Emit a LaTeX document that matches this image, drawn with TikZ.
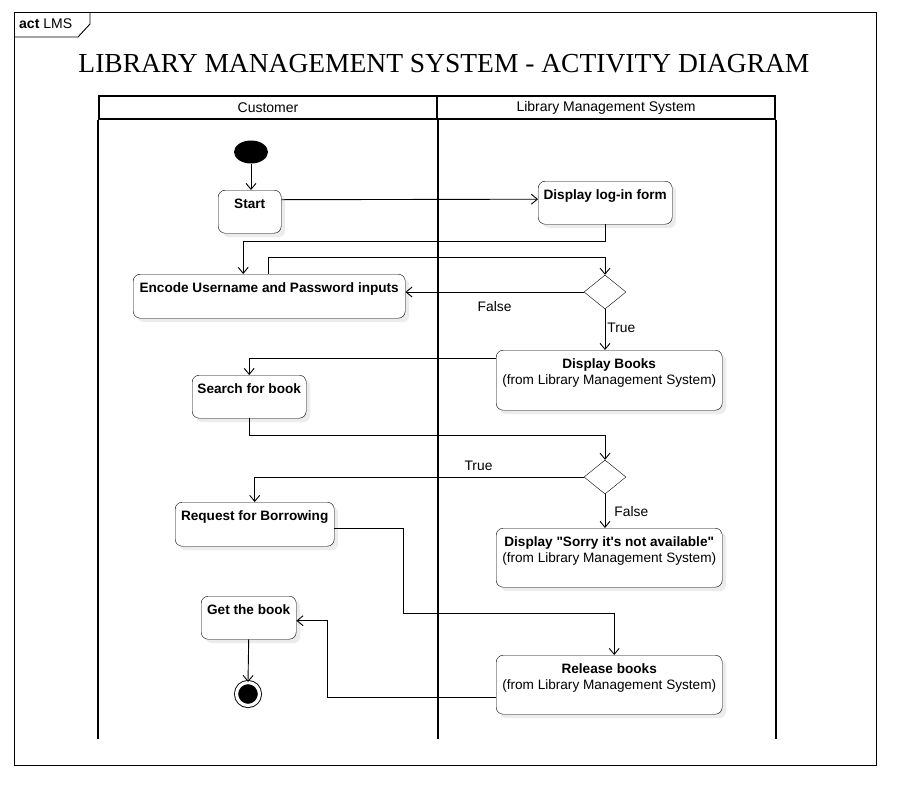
\documentclass[tikz,border=0pt]{standalone}
\usepackage{fontspec}
\setmainfont{Liberation Sans}[Ligatures=TeXOff]
\newfontfamily\titlefont{Liberation Serif}
\usetikzlibrary{arrows.meta}
\usetikzlibrary{shapes.geometric}
\usetikzlibrary{shadows}

\begin{document}
\begin{tikzpicture}[
    x=1pt, y=-1pt,
    activity/.style={draw, rounded corners=7pt, fill=white, anchor=north west, align=center,
        font=\fontsize{13.6}{16}\selectfont, inner xsep=2pt, inner ysep=6pt,
        text height=12pt, text depth=19pt, minimum height=43pt,
        drop shadow={shadow xshift=4pt, shadow yshift=-4pt, opacity=0.15}},
    twoline/.style={text height=28pt, text depth=19pt, minimum height=59pt},
    decision/.style={draw, diamond, aspect=1.25, fill=white, inner sep=0pt,
        minimum width=42pt, minimum height=34pt},
    lanehead/.style={draw, line width=1.6pt, minimum height=23pt, inner sep=0pt,
        font=\fontsize{14}{16}\selectfont},
    lane/.style={line width=1.6pt},
    flow/.style={-{Straight Barb[length=6pt, width=10pt]}, line width=0.9pt},
    guard/.style={font=\fontsize{13.8}{16}\selectfont, inner sep=1pt}
]
    \useasboundingbox (0,0) rectangle (909,793);

    % Frame and title
    \draw[line width=0.9pt] (14,12) rectangle (876,765);
    \draw[line width=0.9pt] (14,37) -- (78,37) -- (90,24) -- (90,12);
    \node[anchor=west, inner sep=0pt, font=\fontsize{14}{16}\selectfont] (frame) at (19,24) {\textbf{act} LMS};
    \node[font=\titlefont\fontsize{27.5}{30}\selectfont] (title) at (444,64) {LIBRARY MANAGEMENT SYSTEM - ACTIVITY DIAGRAM};

    % Swimlanes
    \node[lanehead, minimum width=338pt] (cust) at (268,107.5) {Customer};
    \node[lanehead, minimum width=338pt] (lms) at (606,107.5) {Library Management System};
    \draw[lane] (cust.south west) -- ++(0,619);
    \draw[lane] (cust.south east) -- ++(0,619);
    \draw[lane] (lms.south east) -- ++(0,619);

    % Customer activities
    \node[fill, ellipse, minimum width=34pt, minimum height=23pt, inner sep=0pt] (init) at (251,152) {};
    \node[activity, minimum width=63pt] (start) at (218,190) {\textbf{Start}};
    \node[activity, minimum width=272pt, minimum height=44pt] (encode) at (133,274) {\textbf{Encode Username and Password inputs}};
    \node[activity, minimum width=114pt] (search) at (192,375) {\textbf{Search for book}};
    \node[activity, minimum width=159pt, minimum height=44pt] (request) at (175,502) {\textbf{Request for Borrowing}};
    \node[activity, minimum width=95pt] (getbook) at (201,596) {\textbf{Get the book}};
    \node[circle, fill=black, draw=black, line width=0.9pt, double=white, double distance=3.2pt,
        minimum size=23pt, inner sep=0pt] (final) at (248,694) {};

    % System activities
    \node[activity, minimum width=134pt] (login) at (538,181) {\textbf{Display log-in form}};
    \node[decision] (check) at (605,292) {};
    \node[activity, twoline, minimum width=226pt, minimum height=60pt] (books) at (496,350) {\textbf{Display Books}\\(from Library Management System)};
    \node[decision] (found) at (605,477) {};
    \node[activity, twoline, minimum width=226pt] (sorry) at (496,528) {\textbf{Display "Sorry it's not available"}\\(from Library Management System)};
    \node[activity, twoline, minimum width=226pt] (release) at (496,655) {\textbf{Release books}\\(from Library Management System)};

    % Control flows
    \draw[flow] (init) -- (init |- start.north);
    \draw[flow] ([yshift=12pt]start.east) -- ([yshift=3.5pt]login.west);
    \draw[flow] (login.south) -- ++(0,17) -| ([xshift=-26pt]encode.north);
    \draw[flow] ([xshift=-1pt]encode.north) -- ++(0,-17) -| (check.north);
    \draw[flow] (check.west) -- (check.west -| encode.east)
        node[guard, pos=0.5, yshift=-15pt] (no1) {False};
    \draw[flow] (check.south) -- (check.south |- books.north)
        node[guard, pos=0.45, anchor=west, xshift=1pt] (yes1) {True};
    \draw[flow] ([yshift=-8pt]books.north west) -| (search.north);
    \draw[flow] (search.south) -- ++(0,17) -| (found.north);
    \draw[flow] (found.west) -| (request.north)
        node[guard, pos=0.16, yshift=11pt] (yes2) {True};
    \draw[flow] (found.south) -- (found.south |- sorry.north)
        node[guard, pos=0.5, anchor=west, xshift=8pt] (no2) {False};
    \draw[flow] ([yshift=-4pt]request.east) -- ++(69,0) -- ++(0,85) -| ([xshift=5pt]release.north);
    \draw[flow] ([yshift=-12.5pt]release.west) -- ++(-169,0) |- ([yshift=-3pt]getbook.east);
    \draw[flow] (getbook.south) -- (final.north);

\end{tikzpicture}
\end{document}
